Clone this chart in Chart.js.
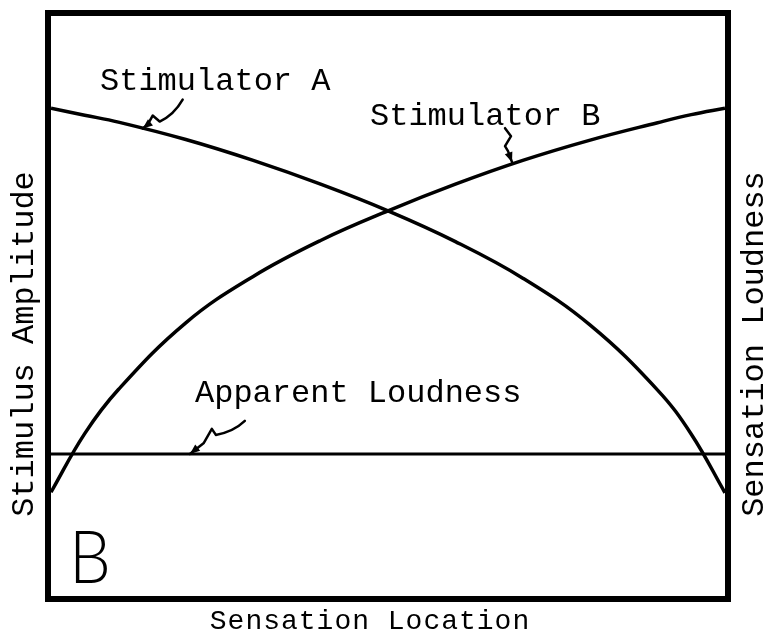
<!DOCTYPE html>
<html lang="en">
<head>
<meta charset="utf-8"/>
<script src="https://cdn.jsdelivr.net/npm/chart.js@4.4.0/dist/chart.umd.min.js"></script>
<style>
    html, body { margin: 0; padding: 0; background: #fff; }
</style>
</head>
<body>
<canvas id="chart" width="767" height="640"></canvas>
<script>
// sensation location, in percent of the way from stimulator A to stimulator B
const locations = [0, 5, 10, 20, 30, 40, 50, 60, 70, 80, 90, 95, 100];
const stimulatorA = [84.1, 82.9, 81.7, 78.7, 75.1, 71.0, 66.4, 61.1, 54.8, 46.7, 35.5, 27.9, 17.8];
const stimulatorB = [17.9, 28.0, 35.6, 47.1, 55.1, 61.3, 66.4, 71.0, 75.1, 78.6, 81.6, 83.0, 84.1];
const loudnessLocations = [0, 100];
const apparentLoudness = [24.5, 24.5];

const toPoints = (xs, ys) => xs.map((x, i) => ({x: x, y: ys[i]}));

const monoFont = '"Liberation Mono", "DejaVu Sans Mono", monospace';

// little hand drawn arrows: tip in data units, path in pixels relative to the tip
const arrows = [
    {tip: [13.6, 80.6], path: [[40, -29], [17, -7], [10, -13], [5, -4], [0, 0]]},
    {tip: [68.4, 74.8], path: [[-7, -34], [-1, -26], [-7, -16], [-4, -11], [0, 0]]},
    {tip: [20.6, 24.5], path: [[55, -33], [26, -19], [22, -25], [14, -11], [0, 0]]}
];

function drawArrow(ctx, tx, ty, path) {
    const pts = path.map(p => [tx + p[0], ty + p[1]]);
    ctx.beginPath();
    ctx.moveTo(pts[0][0], pts[0][1]);
    ctx.quadraticCurveTo((pts[0][0] + pts[1][0]) / 2 + 3, (pts[0][1] + pts[1][1]) / 2 + 4, pts[1][0], pts[1][1]);
    for (let i = 2; i < pts.length; i++) ctx.lineTo(pts[i][0], pts[i][1]);
    ctx.stroke();
    // arrow head
    const a = pts[pts.length - 2], b = pts[pts.length - 1];
    const ang = Math.atan2(b[1] - a[1], b[0] - a[0]);
    ctx.beginPath();
    ctx.moveTo(b[0], b[1]);
    ctx.lineTo(b[0] - 10 * Math.cos(ang) + 4 * Math.sin(ang), b[1] - 10 * Math.sin(ang) - 4 * Math.cos(ang));
    ctx.lineTo(b[0] - 10 * Math.cos(ang) - 4 * Math.sin(ang), b[1] - 10 * Math.sin(ang) + 4 * Math.cos(ang));
    ctx.closePath();
    ctx.fill();
}

const framePlugin = {
    id: 'frame',
    afterDatasetsDraw(chart) {
        const {ctx, chartArea: a} = chart;
        ctx.save();
        ctx.strokeStyle = '#000';
        ctx.lineWidth = 6;
        ctx.strokeRect(a.left - 3, a.top - 3, a.right - a.left + 6, a.bottom - a.top + 6);
        ctx.restore();
    }
};

const labelPlugin = {
    id: 'labels',
    afterDraw(chart) {
        const ctx = chart.ctx;
        const xs = chart.scales.x, ys = chart.scales.y;
        ctx.save();
        ctx.fillStyle = '#000';
        ctx.strokeStyle = '#000';
        ctx.textBaseline = 'alphabetic';

        // curve labels
        ctx.font = '32px ' + monoFont;
        ctx.textAlign = 'left';
        ctx.fillText('Stimulator A', 100, 90);
        ctx.fillText('Stimulator B', 370, 125);
        ctx.fillText('Apparent Loudness', 195, 402);

        // axis titles
        ctx.textAlign = 'center';
        ctx.save();
        ctx.translate(33, 344);
        ctx.rotate(-Math.PI / 2);
        ctx.fillText('Stimulus Amplitude', 0, 0);
        ctx.restore();
        ctx.save();
        ctx.translate(763, 344);
        ctx.rotate(-Math.PI / 2);
        ctx.fillText('Sensation Loudness', 0, 0);
        ctx.restore();

        ctx.font = '28px ' + monoFont;
        ctx.letterSpacing = '1px';
        ctx.fillText('Sensation Location', 370, 629);
        ctx.letterSpacing = '0px';

        // panel letter
        ctx.save();
        ctx.translate(69, 583);
        ctx.scale(0.92, 1);
        ctx.font = '300 72px Lato, "DejaVu Sans", sans-serif';
        ctx.textAlign = 'left';
        ctx.fillText('B', 0, 0);
        ctx.restore();

        // arrows
        ctx.lineWidth = 2.5;
        ctx.lineJoin = 'round';
        ctx.lineCap = 'round';
        arrows.forEach(ar => {
            drawArrow(ctx, xs.getPixelForValue(ar.tip[0]), ys.getPixelForValue(ar.tip[1]), ar.path);
        });
        ctx.restore();
    }
};

const lineStyle = {
    borderColor: '#000',
    borderWidth: 3.5,
    pointRadius: 0,
    fill: false,
    tension: 0.4
};

new Chart(document.getElementById('chart'), {
    type: 'line',
    data: {
        datasets: [
            Object.assign({label: 'Stimulator A', data: toPoints(locations, stimulatorA)}, lineStyle),
            Object.assign({label: 'Stimulator B', data: toPoints(locations, stimulatorB)}, lineStyle),
            Object.assign({label: 'Apparent Loudness', data: toPoints(loudnessLocations, apparentLoudness)}, lineStyle, {borderWidth: 3})
        ]
    },
    options: {
        responsive: false,
        animation: false,
        devicePixelRatio: 1,
        layout: {padding: {left: 51, right: 42, top: 16, bottom: 44}},
        scales: {
            x: {type: 'linear', min: 0, max: 100, display: false},
            y: {type: 'linear', min: 0, max: 100, display: false}
        },
        plugins: {
            legend: {display: false},
            tooltip: {enabled: false}
        }
    },
    plugins: [framePlugin, labelPlugin]
});
</script>
</body>
</html>
